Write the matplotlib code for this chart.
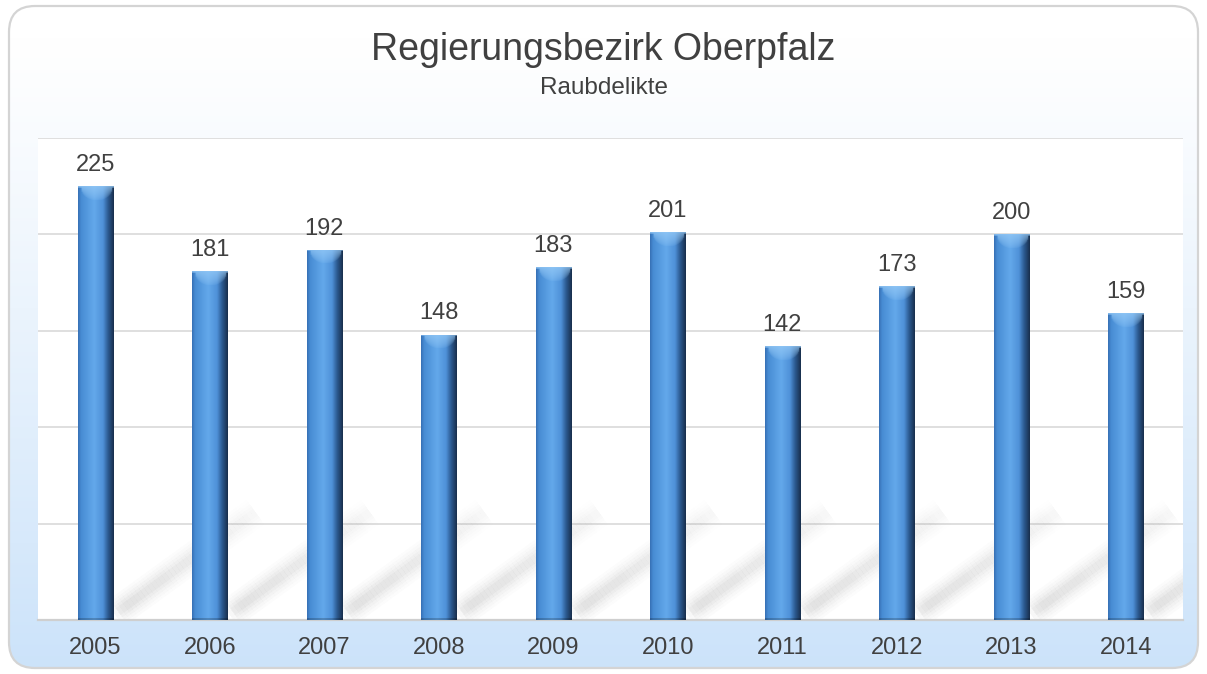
import numpy as np
import matplotlib
matplotlib.use("Agg")
import matplotlib.pyplot as plt
from matplotlib.patches import FancyBboxPatch
from matplotlib.collections import LineCollection

# ---- data ----
years = ["2005", "2006", "2007", "2008", "2009", "2010", "2011", "2012", "2013", "2014"]
values = [225, 181, 192, 148, 183, 201, 142, 173, 200, 159]
title = "Regierungsbezirk Oberpfalz"
subtitle = "Raubdelikte"
y_max = 250
grid_ticks = [50, 100, 150, 200, 250]

plt.rcParams['font.family'] = ['Liberation Sans', 'DejaVu Sans']
TXT = "#404040"

W, H = 1207, 674
fig = plt.figure(figsize=(W / 100, H / 100), dpi=100)
fig.patch.set_facecolor("white")

# ---- background panel with rounded border and gradient ----
bg = fig.add_axes([0, 0, 1, 1])
bg.set_axis_off()
bg.set_xlim(0, W)
bg.set_ylim(0, H)
panel = FancyBboxPatch((9, 6), W - 18, H - 12,
                       boxstyle="round,pad=0,rounding_size=26",
                       facecolor="none", edgecolor="#d4d4d4", lw=1.6, zorder=3)
bg.add_patch(panel)
n = 256
t = np.linspace(0, 1, n)[:, None]  # 0 top -> 1 bottom
top_c = np.array([1.0, 1.0, 1.0])
bot_c = np.array([0.80, 0.89, 0.98])
ramp = np.clip((t - 0.05) / 0.95, 0, 1) ** 1.1
grad = top_c * (1 - ramp) + bot_c * ramp
grad = np.repeat(grad[:, None, :], 4, axis=1)
im = bg.imshow(grad, extent=[9, W - 9, 6, H - 6], origin="upper",
               aspect="auto", zorder=1, interpolation="bilinear")
clip = FancyBboxPatch((9, 6), W - 18, H - 12,
                      boxstyle="round,pad=0,rounding_size=26",
                      facecolor="none", edgecolor="none", transform=bg.transData)
im.set_clip_path(clip)

fig.text(0.5, 1 - 50 / H, title, ha="center", va="center", fontsize=27, color=TXT)
fig.text(0.5, 1 - 88 / H, subtitle, ha="center", va="center", fontsize=17.5, color=TXT)

# ---- main axes ----
left_px, right_px, top_px, bottom_px = 38, 1183, 138, 620
ax = fig.add_axes([left_px / W, (H - bottom_px) / H,
                   (right_px - left_px) / W, (bottom_px - top_px) / H])
ax.set_facecolor("white")
x = np.arange(len(years))
ax.set_xlim(-0.5, len(years) - 0.5)
ax.set_ylim(0, y_max)

for g in grid_ticks:
    ax.axhline(g, color="#d9d9d9", lw=1.2, zorder=0.5)

for s in ["left", "right", "top"]:
    ax.spines[s].set_visible(False)
ax.spines["bottom"].set_color("#cfcfcf")
ax.spines["bottom"].set_linewidth(1.6)
ax.set_yticks([])
ax.set_xticks(x)
ax.set_xticklabels(years, fontsize=17, color=TXT)
ax.tick_params(axis="x", length=0, pad=12)

# ---- diagonal soft shadows ----
for i in x:
    x0, y0 = i + 0.17, 3.0
    x1, y1 = i + 1.40, 56.0
    nseg = 40
    xs = np.linspace(x0, x1, nseg + 1)
    ys = np.linspace(y0, y1, nseg + 1)
    segs = [[(xs[k], ys[k]), (xs[k + 1], ys[k + 1])] for k in range(nseg)]
    tt = np.linspace(0, 1, nseg)
    fade = np.clip(1.0 - tt, 0, 1) ** 0.8 * np.clip(tt / 0.08, 0, 1) ** 0.5
    fade = 0.15 + 0.85 * fade
    for lw, a in [(22, 0.025), (18, 0.03), (14, 0.04), (10, 0.05), (6, 0.06)]:
        cols = [(0.42, 0.42, 0.42, a * f) for f in fade]
        lc = LineCollection(segs, colors=cols, linewidths=lw, capstyle="butt", zorder=1)
        ax.add_collection(lc)

# ---- bars with cylinder-like gradient ----
bar_w = 0.31
bars = ax.bar(x, values, width=bar_w, color="none", edgecolor="none", zorder=3)

stops_u = np.array([0.0, 0.08, 0.45, 0.70, 0.85, 1.0])
stops_c = np.array([
    [0.22, 0.45, 0.72],
    [0.28, 0.55, 0.83],
    [0.39, 0.66, 0.92],
    [0.31, 0.57, 0.85],
    [0.17, 0.35, 0.56],
    [0.10, 0.19, 0.31],
])
ncol = 40
u = np.linspace(0, 1, ncol)
prof = np.stack([np.interp(u, stops_u, stops_c[:, k]) for k in range(3)], axis=1)
light = np.array([0.60, 0.80, 0.97])
px_per_unit = (bottom_px - top_px) / y_max

for b, v in zip(bars, values):
    hpx = max(int(v * px_per_unit), 2)
    img = np.repeat(prof[None, :, :], hpx, axis=0).copy()
    # top bevel: light cap with soft curved lower edge
    depth = 2 + 12 * np.sqrt(np.clip(1 - (2 * u - 1.05) ** 2 / 0.8, 0, 1))
    for r in range(min(18, hpx)):
        frac = np.clip(1 - r / (depth + 1e-9), 0, 1)
        w = 0.7 * frac ** 0.6
        img[r] = img[r] * (1 - w[:, None]) + light * w[:, None]
    img[0] = img[0] * 0.85 + light * 0.15
    img[-2:] = img[-2:] * 0.8
    bx0 = b.get_x()
    bx1 = bx0 + b.get_width()
    bim = ax.imshow(img, extent=[bx0, bx1, 0, v], origin="upper", aspect="auto",
                    zorder=3, interpolation="bilinear")
    bim.set_clip_path(b)

ax.set_xlim(-0.5, len(years) - 0.5)
ax.set_ylim(0, y_max)

for xi, v in zip(x, values):
    ax.annotate(str(v), (xi, v), xytext=(0, 11), textcoords="offset points",
                ha="center", va="baseline", fontsize=17, color=TXT, zorder=4)

fig.savefig("out.png", dpi=100)
